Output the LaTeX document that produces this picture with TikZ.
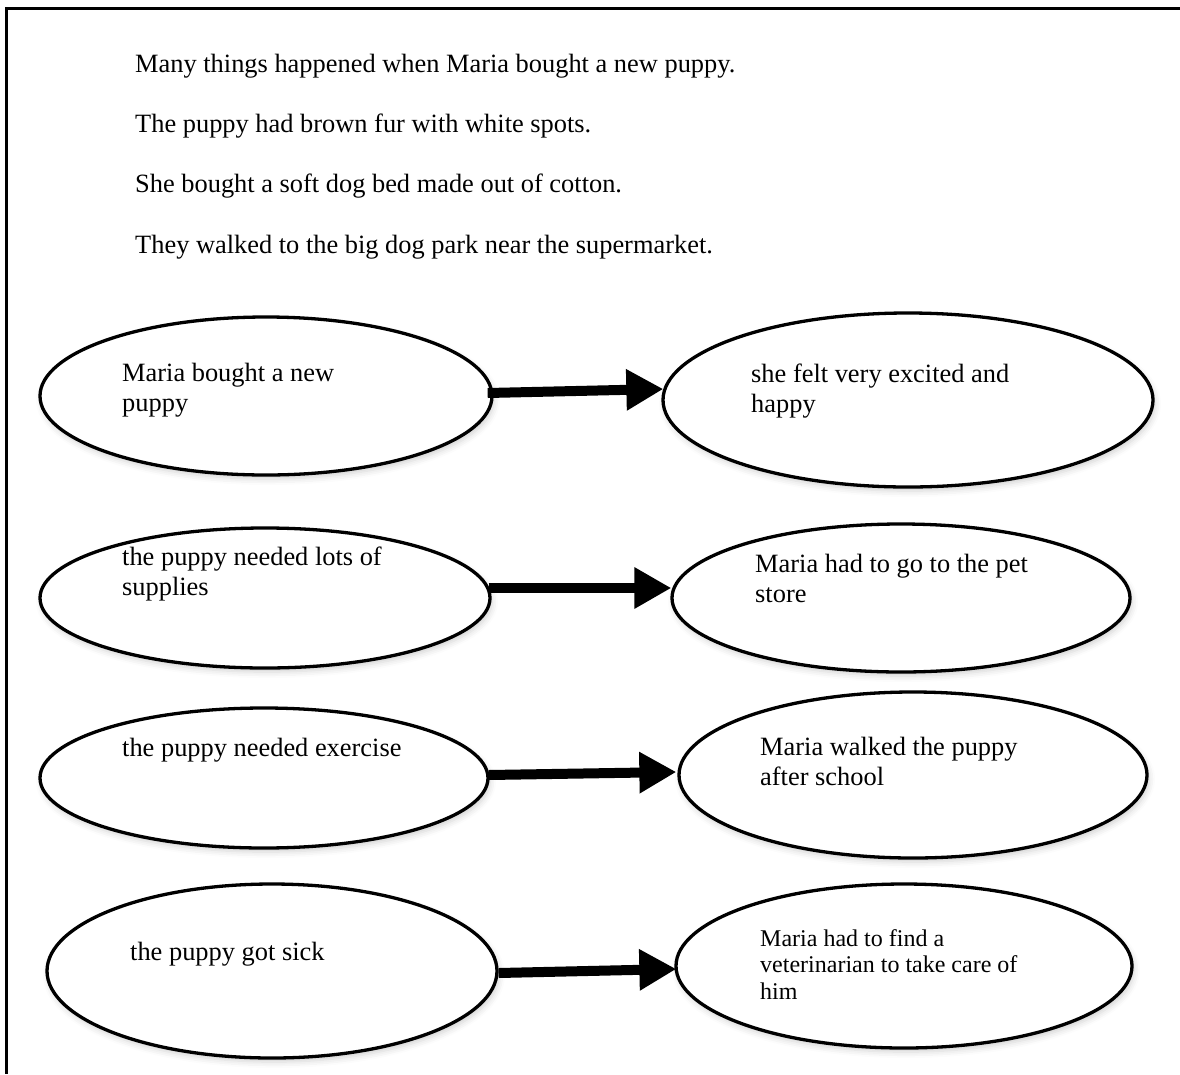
\documentclass[tikz,border=0pt]{standalone}
\usepackage{fontspec}
\setmainfont{Liberation Serif}
\usetikzlibrary{arrows.meta,shapes.geometric,shadows.blur}
\newcommand\mylines[1]{\begin{tabular}[t]{@{}l@{}}#1\end{tabular}}
\begin{document}
\begin{tikzpicture}[x=1pt,y=-1pt,
  ell/.style={ellipse, draw=black, line width=3.3pt, fill=white, inner sep=0pt,
    blur shadow={shadow xshift=2pt, shadow yshift=-4pt, shadow blur radius=6pt, shadow opacity=18}},
  txt/.style={anchor=base west, inner sep=0pt, font=\fontsize{26.4}{30.4}\selectfont},
  smalltxt/.style={anchor=base west, inner sep=0pt, font=\fontsize{24}{26.7}\selectfont},
  arr/.style={line width=10pt, -{Triangle[length=37pt,width=39pt]}},
  frame/.style={line width=3pt}
]
\useasboundingbox (0,0) rectangle (1180,1074);
\draw[frame] (1180,8.5) -- (6,8.5) -- (6,1074);

% introduction
\node[txt] (p1) at (135,72) {Many things happened when Maria bought a new puppy.};
\node[txt] (p2) at (135,132) {The puppy had brown fur with white spots.};
\node[txt] (p3) at (135,192.5) {She bought a soft dog bed made out of cotton.};
\node[txt] (p4) at (135,253) {They walked to the big dog park near the supermarket.};

% ellipses
\node[ell, minimum width=452pt, minimum height=158pt] (e1l) at (266,396) {};
\node[ell, minimum width=490pt, minimum height=174pt] (e1r) at (908,400) {};
\node[ell, minimum width=450pt, minimum height=140pt] (e2l) at (265,598) {};
\node[ell, minimum width=458pt, minimum height=148pt] (e2r) at (901,598) {};
\node[ell, minimum width=448pt, minimum height=140pt] (e3l) at (264,778) {};
\node[ell, minimum width=468pt, minimum height=166pt] (e3r) at (913,775) {};
\node[ell, minimum width=450pt, minimum height=174pt] (e4l) at (272,971) {};
\node[ell, minimum width=456pt, minimum height=164pt] (e4r) at (904,966) {};

% texts
\node[txt] (t1l) at (122,381) {\mylines{Maria bought a new\\puppy}};
\node[txt] (t1r) at (751,382) {\mylines{she felt very excited and\\happy}};
\node[txt] (t2l) at (122,565) {\mylines{the puppy needed lots of\\supplies}};
\node[txt] (t2r) at (755,572) {\mylines{Maria had to go to the pet\\store}};
\node[txt] (t3l) at (122,756) {the puppy needed exercise};
\node[txt] (t3r) at (760,755) {\mylines{Maria walked the puppy\\after school}};
\node[txt] (t4l) at (130,960) {the puppy got sick};
\node[smalltxt] (t4r) at (760,946) {\mylines{Maria had to find a\\veterinarian to take care of\\him}};

% arrows
\draw[arr] ([xshift=-6pt,yshift=3pt]e1l.east) -- ([xshift=2pt,yshift=11pt]e1r.west);
\draw[arr] ([xshift=-3pt,yshift=10pt]e2l.east) -- ([xshift=1pt,yshift=10pt]e2r.west);
\draw[arr] ([xshift=-1pt,yshift=3pt]e3l.east) -- ([xshift=-1pt,yshift=3pt]e3r.west);
\draw[arr] ([xshift=0pt,yshift=-2pt]e4l.east) -- ([xshift=2pt,yshift=-3pt]e4r.west);
\end{tikzpicture}
\end{document}
